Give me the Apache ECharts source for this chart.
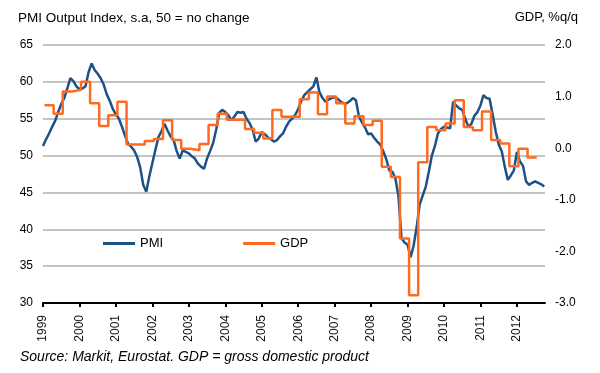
<!DOCTYPE html>
<html><head><meta charset="utf-8">
<script src="https://cdn.jsdelivr.net/npm/echarts@6/dist/echarts.min.js"></script>
<style>html,body{margin:0;padding:0;background:#fff}#c{width:600px;height:373px}</style>
</head><body><div id="c"></div>
<script>
// ---- data ----
const startYear = 1999;
const yearLabels = ['1999','2000','2001','2002','2003','2004','2005','2006','2007','2008','2009','2010','2011','2012'];
// PMI composite output index, monthly Jan 1999 .. Oct 2012
const pmiMonthly = [
  51.3, 52.2, 53.0, 53.9, 54.7, 55.9, 57.0, 57.8, 59.1, 60.5, 60.1, 59.4,
  59.0, 59.1, 59.4, 61.3, 62.5, 61.6, 61.1, 60.5, 59.6, 58.3, 57.4, 56.3,
  55.6, 55.0, 53.9, 52.7, 51.6, 51.2, 50.7, 49.8, 48.4, 46.0, 45.1, 47.2,
  49.0, 50.8, 52.5, 53.3, 54.3, 53.4, 52.6, 52.1, 50.6, 49.6, 50.7, 50.5,
  50.3, 49.9, 49.6, 48.9, 48.5, 48.2, 49.6, 50.6, 51.7, 53.5, 55.8, 56.2,
  55.9, 55.5, 54.8, 55.3, 55.9, 55.8, 55.9, 55.0, 54.4, 53.5, 51.9, 52.3,
  53.2, 52.9, 52.5, 52.2, 51.9, 52.1, 52.6, 53.0, 53.9, 54.6, 55.0, 55.5,
  56.3, 57.4, 58.2, 58.6, 59.0, 59.4, 60.6, 58.6, 57.8, 57.3, 57.6, 57.8,
  57.9, 57.7, 57.3, 57.1, 57.1, 57.4, 57.8, 57.5, 55.3, 54.5, 53.8, 52.9,
  53.0, 52.4, 51.9, 51.5, 50.6, 49.5, 48.0, 47.8, 46.9, 44.5, 38.8, 38.2,
  37.9, 36.2, 37.8, 40.3, 43.4, 44.6, 45.8, 47.8, 50.0, 51.3, 53.0, 53.6,
  53.9, 53.8, 53.7, 57.3, 56.8, 56.4, 56.2, 55.0, 53.9, 54.3, 55.4, 55.9,
  56.8, 58.2, 57.8, 57.7, 55.6, 53.3, 51.5, 50.6, 48.5, 46.7, 47.3, 48.0,
  50.5, 49.2, 48.6, 46.5, 46.0, 46.3, 46.5, 46.3, 46.1, 45.8
];
// GDP % q/q, quarterly 1999Q1 .. 2012Q2
const gdpQuarterly = [
  0.83, 0.67, 1.10, 1.13,
  1.29, 0.87, 0.43, 0.64,
  0.90, 0.07, 0.07, 0.14,
  0.18, 0.54, 0.16, -0.01,
  -0.04, 0.08, 0.45, 0.67,
  0.55, 0.55, 0.37, 0.30,
  0.19, 0.74, 0.61, 0.61,
  0.95, 1.08, 0.66, 1.00,
  0.87, 0.48, 0.62, 0.45,
  0.53, -0.36, -0.56, -1.75,
  -2.85, -0.27, 0.41, 0.35,
  0.48, 0.93, 0.41, 0.35,
  0.71, 0.16, 0.09, -0.35,
  -0.01, -0.18
];

// ---- build series data ----
const pmiData = pmiMonthly.map((v, i) => [startYear + i / 12, v]);
const gdpData = gdpQuarterly.map((v, i) => [startYear + (i * 3 + 0.5) / 12, v]);
gdpData.push([startYear + (gdpQuarterly.length * 3 + 0.5) / 12, gdpQuarterly[gdpQuarterly.length - 1]]);
const yearTicks = yearLabels.map(Number);

const FONT = 'Liberation Sans, Arial, sans-serif';
const chart = echarts.init(document.getElementById('c'), null, {renderer: 'canvas'});
chart.setOption({
  backgroundColor: '#fff',
  animation: false,
  textStyle: {fontFamily: FONT},
  title: [
    {text: 'PMI Output Index, s.a, 50 = no change', left: 18, top: 11, padding: 0,
     textStyle: {fontSize: 13.5, fontWeight: 'normal', color: '#000', fontFamily: FONT}},
    {text: 'GDP, %q/q', right: 22, top: 11, padding: 0,
     textStyle: {fontSize: 13, fontWeight: 'normal', color: '#000', fontFamily: FONT}},
    {text: 'Source: Markit, Eurostat. GDP = gross domestic product', left: 20, top: 350, padding: 0,
     textStyle: {fontSize: 14, fontWeight: 'normal', fontStyle: 'italic', color: '#000', fontFamily: FONT}}
  ],
  legend: {
    left: 103, top: 237, padding: 0,
    itemWidth: 32, itemHeight: 3, itemGap: 80,
    icon: 'rect',
    textStyle: {fontSize: 13, color: '#000', fontFamily: FONT},
    data: ['PMI', 'GDP']
  },
  grid: {left: 43, right: 55, top: 45, bottom: 70, containLabel: false},
  xAxis: {
    type: 'value', min: startYear, max: 2012.77,
    splitLine: {show: false},
    axisLine: {show: true, onZero: false, lineStyle: {color: '#000', width: 2}},
    axisTick: {show: true, length: 4, lineStyle: {color: '#000', width: 2}, customValues: yearTicks},
    axisLabel: {rotate: 90, margin: 12, fontSize: 12, color: '#111', fontFamily: FONT,
      customValues: yearTicks, formatter: v => String(Math.round(v))}
  },
  yAxis: [
    {type: 'value', min: 30, max: 65, interval: 5,
     axisLine: {show: false}, axisTick: {show: false},
     axisLabel: {fontSize: 12, color: '#000', margin: 10, fontFamily: FONT},
     splitLine: {show: true, lineStyle: {color: '#c4c4c4', width: 2}}},
    {type: 'value', min: -3, max: 2, interval: 1, position: 'right',
     axisLine: {show: false}, axisTick: {show: false}, splitLine: {show: false},
     axisLabel: {fontSize: 12, color: '#000', margin: 10, fontFamily: FONT,
       formatter: v => v.toFixed(1)}}
  ],
  series: [
    {name: 'PMI', type: 'line', data: pmiData, showSymbol: false, symbol: 'none',
     yAxisIndex: 0, color: '#1d5286',
     lineStyle: {color: '#1d5286', width: 2.5}, z: 2},
    {name: 'GDP', type: 'line', data: gdpData, showSymbol: false, symbol: 'none', step: 'end',
     yAxisIndex: 1, color: '#ff6a1f',
     lineStyle: {color: '#ff6a1f', width: 2.5}, z: 3}
  ]
});
</script></body></html>
